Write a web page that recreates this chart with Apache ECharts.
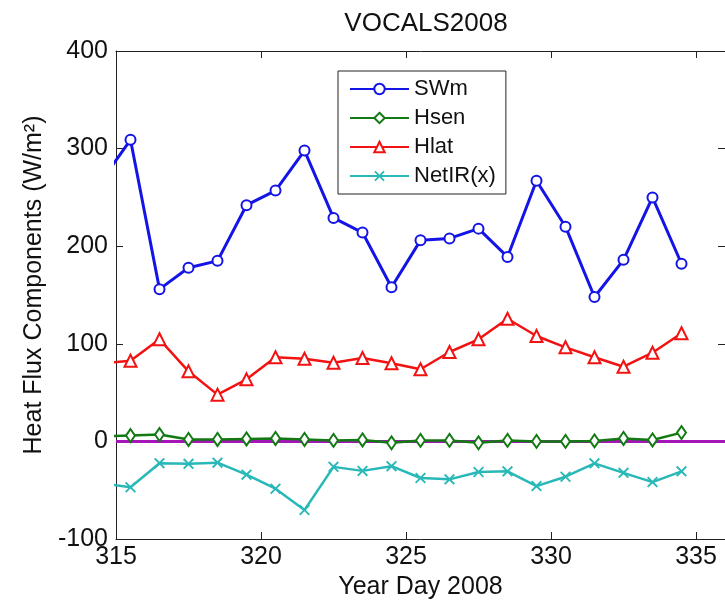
<!DOCTYPE html>
<html>
<head>
<meta charset="utf-8">
<script src="https://cdn.jsdelivr.net/npm/echarts@6/dist/echarts.min.js"></script>
<style>
  html, body { margin: 0; padding: 0; background: #fff; }
  #chart { width: 725px; height: 607px; }
</style>
</head>
<body>
<div id="chart"></div>
<script>
// Daily heat flux components, VOCALS 2008 cruise (year day, W/m^2)
const days  = [314.5, 315.5, 316.5, 317.5, 318.5, 319.5, 320.5, 321.5, 322.5, 323.5, 324.5,
               325.5, 326.5, 327.5, 328.5, 329.5, 330.5, 331.5, 332.5, 333.5, 334.5];
const swm   = [267, 309, 156, 178, 185, 242, 257, 298, 229, 214, 158,
               206, 208, 218, 189, 267, 220, 148, 186, 250, 182];
const hsen  = [5, 6, 7, 2, 2, 2.5, 3, 2, 1, 1.5, -1.5,
               1, 1, -1.5, 1, 0, 0, 0.5, 3, 1.5, 9];
const hlat  = [80, 82.7, 104.6, 71.8, 47.9, 63.6, 86.2, 84.7, 80.6, 85.5, 80,
               73.9, 91.6, 104.6, 125.7, 108, 96.4, 86.2, 76.5, 90.9, 110.8];
const netir = [-43, -47, -22.3, -23, -21.8, -34.1, -48.5, -70.3, -26.1, -30.2, -25.4,
               -37.5, -38.9, -31.4, -30.7, -45.8, -36.2, -22.5, -32.2, -41.7, -30.7];
const xTicks = [315, 320, 325, 330, 335];
const yTicks = [-100, 0, 100, 200, 300, 400];

const FONT = "'Liberation Sans', Arial, sans-serif";
const AXIS_COLOR = '#222';

const pairs = ys => days.map((d, i) => [d, ys[i]]);
const xMark = 'path://M0,1.2 L1.2,0 L5,3.8 L8.8,0 L10,1.2 L6.2,5 L10,8.8 L8.8,10 L5,6.2 L1.2,10 L0,8.8 L3.8,5 Z';

const chart = echarts.init(document.getElementById('chart'), null, { renderer: 'canvas' });

const frameAxis = (extra) => Object.assign({
  type: 'value',
  axisLine: { show: true, onZero: false, lineStyle: { color: AXIS_COLOR, width: 1 } },
  axisTick: { show: true, inside: true, length: 7, lineStyle: { color: AXIS_COLOR } },
  splitLine: { show: false },
  axisLabel: { show: false }
}, extra);

const option = {
  backgroundColor: '#fff',
  animation: false,
  title: {
    text: 'VOCALS2008',
    left: 421,
    textAlign: 'center',
    top: 6,
    textStyle: { fontFamily: FONT, fontSize: 26, fontWeight: 'normal', color: '#111' }
  },
  legend: {
    orient: 'vertical',
    left: 338,
    top: 71,
    padding: [7, 10, 7, 11],
    itemWidth: 59,
    itemHeight: 13,
    itemGap: 7,
    borderColor: '#222',
    borderWidth: 1,
    backgroundColor: '#fff',
    textStyle: { fontFamily: FONT, fontSize: 22, lineHeight: 22, color: '#111' },
    data: ['SWm', 'Hsen', 'Hlat', 'NetIR(x)']
  },
  grid: { left: 116, top: 51, right: -2, bottom: 68 },
  xAxis: [
    frameAxis({
      position: 'bottom',
      min: 315, max: 336, interval: 5,
      name: 'Year Day 2008',
      nameLocation: 'middle',
      nameGap: 36,
      nameTextStyle: { fontFamily: FONT, fontSize: 25, color: '#111' },
      axisLabel: {
        show: true, margin: 6, showMaxLabel: false,
        fontFamily: FONT, fontSize: 25, color: '#111',
        formatter: v => xTicks.includes(v) ? String(v) : ''
      }
    }),
    frameAxis({ position: 'top', min: 315, max: 336, interval: 5 })
  ],
  yAxis: [
    frameAxis({
      position: 'left',
      min: -100, max: 400, interval: 100,
      name: 'Heat Flux Components (W/m²)',
      nameLocation: 'middle',
      nameGap: 69,
      nameTextStyle: { fontFamily: FONT, fontSize: 25, color: '#111', padding: [0, 0, 0, 20] },
      axisLabel: {
        show: true, margin: 8,
        fontFamily: FONT, fontSize: 25, color: '#111',
        formatter: v => yTicks.includes(v) ? String(v) : ''
      }
    }),
    frameAxis({ position: 'right', min: -100, max: 400, interval: 100 })
  ],
  series: [
    {
      name: 'SWm', type: 'line', data: pairs(swm), clip: true,
      symbol: 'emptyCircle', symbolSize: 10,
      lineStyle: { color: '#1414e6', width: 3 },
      itemStyle: { color: '#1414e6', borderWidth: 2 },
      z: 4
    },
    {
      name: 'Hsen', type: 'line', data: pairs(hsen), clip: true,
      symbol: 'emptyDiamond', symbolSize: [9, 13],
      lineStyle: { color: '#137a13', width: 2.5 },
      itemStyle: { color: '#137a13', borderWidth: 2 },
      z: 5,
      markLine: {
        silent: true, symbol: 'none', label: { show: false },
        lineStyle: { color: '#a416b8', width: 3, type: 'solid' },
        data: [{ yAxis: 0 }]
      }
    },
    {
      name: 'Hlat', type: 'line', data: pairs(hlat), clip: true,
      symbol: 'emptyTriangle', symbolSize: 12,
      lineStyle: { color: '#f21212', width: 2.5 },
      itemStyle: { color: '#f21212', borderWidth: 2 },
      z: 4
    },
    {
      name: 'NetIR(x)', type: 'line', data: pairs(netir), clip: true,
      symbol: xMark, symbolSize: 11,
      lineStyle: { color: '#28b8b8', width: 2.5 },
      itemStyle: { color: '#28b8b8' },
      z: 4
    }
  ]
};

chart.setOption(option);
</script>
</body>
</html>
